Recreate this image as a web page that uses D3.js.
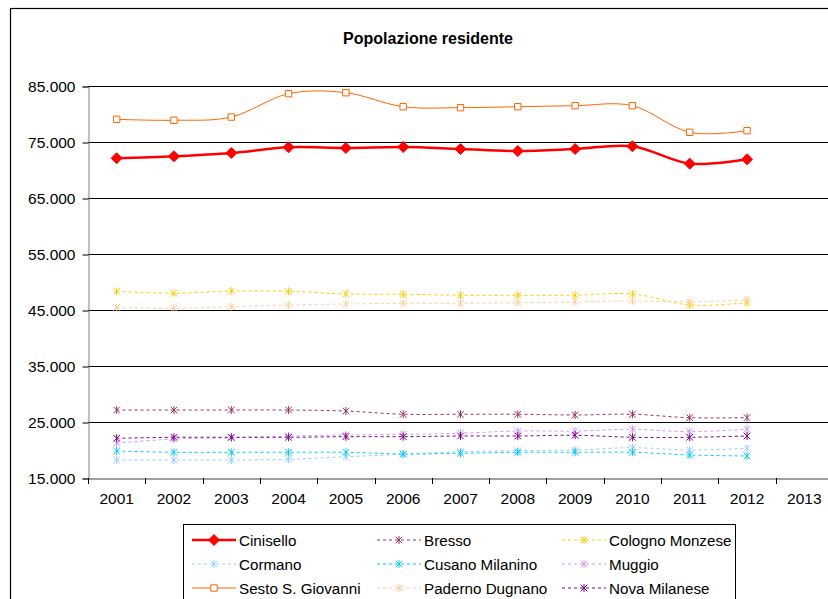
<!DOCTYPE html>
<html><head><meta charset="utf-8">
<script src="https://cdn.jsdelivr.net/npm/d3@7"></script>
<style>
html,body{margin:0;padding:0;background:#fff;}
svg{display:block;font-family:"Liberation Sans",Arial,sans-serif;}
</style></head>
<body>
<svg id="chart" width="828" height="599"></svg>
<script>
const years = [2001,2002,2003,2004,2005,2006,2007,2008,2009,2010,2011,2012];
const axisYears = [2001,2002,2003,2004,2005,2006,2007,2008,2009,2010,2011,2012,2013];
const yTicks = [15000,25000,35000,45000,55000,65000,75000,85000];

const cinisello = [72090,72450,73040,74050,73930,74110,73750,73390,73750,74230,71130,71910];
const sesto     = [79050,78880,79460,83630,83800,81300,81130,81300,81480,81480,76730,77020];
const bresso    = [27140,27140,27140,27140,26960,26380,26380,26380,26250,26380,25770,25770];
const cologno   = [48340,47980,48390,48340,47860,47800,47630,47630,47630,47860,45890,46300];
const paderno   = [45480,45300,45590,45890,46070,46200,46200,46300,46430,46610,46480,46790];
const nova      = [22090,22270,22270,22270,22380,22380,22500,22500,22630,22270,22270,22500];
const muggio    = [21250,21960,22200,22500,22680,22800,23000,23390,23390,23700,23270,23700];
const cusano    = [19820,19590,19590,19590,19590,19290,19410,19590,19590,19590,19110,18930];
const cormano   = [18210,18210,18210,18340,18800,19230,19700,19880,20000,20410,20000,20300];

const seriesNames = ["Cinisello","Bresso","Cologno Monzese","Cormano","Cusano Milanino","Muggio","Sesto S. Giovanni","Paderno Dugnano","Nova Milanese"];
const seriesValues = [cinisello,bresso,cologno,cormano,cusano,muggio,sesto,paderno,nova];
const seriesColors = ["#ff0000","#993366","#ffcc00","#99ccff","#00ccff","#cc99ff","#ff6600","#ffcc99","#800080"];
const seriesMarker = ["diamond","star","star","star","star","star","square","star","star"];
const seriesDashed = [false,true,true,true,true,true,false,true,true];
const seriesWidth = [2.5,1,1,1,1,1,1,1,1];

const svg = d3.select("#chart");

// outer chart border
svg.append("rect").attr("x",10.5).attr("y",8.5).attr("width",840).attr("height",620)
  .attr("fill","none").attr("stroke","#000").attr("stroke-width",1.2);

svg.append("text").attr("x",428).attr("y",44).attr("text-anchor","middle")
  .attr("font-size",16).attr("font-weight","bold").text("Popolazione residente");

const x = d3.scaleBand().domain(axisYears).range([88,833]);
const y = d3.scaleLinear().domain([15000,85000]).range([478,86]);
const loc = d3.formatLocale({decimal:",",thousands:".",grouping:[3],currency:["€",""]});

// gridlines
svg.append("g").selectAll("line").data(yTicks.filter(d=>d>15000)).join("line")
  .attr("x1",88).attr("x2",833).attr("y1",d=>Math.round(y(d))+0.5).attr("y2",d=>Math.round(y(d))+0.5)
  .attr("stroke","#000").attr("stroke-width",1);

// y axis
const yAxis = d3.axisLeft(y).tickValues(yTicks).tickSize(6).tickPadding(7)
  .tickFormat(d => loc.format(",")(d));
const gy = svg.append("g").attr("transform","translate(88.5,0.5)").call(yAxis);
gy.select(".domain").attr("stroke","#808080");
gy.selectAll(".tick line").attr("stroke","#000");
gy.selectAll("text").attr("font-size",15.5).attr("fill","#000").attr("font-family","Liberation Sans, Arial, sans-serif");

// x axis
const xAxis = d3.axisBottom(x).tickSize(0).tickPadding(14);
const gx = svg.append("g").attr("transform","translate(0,478.5)").call(xAxis);
gx.select(".domain").attr("stroke","#404040");
gx.selectAll("text").attr("font-size",15.5).attr("fill","#000").attr("font-family","Liberation Sans, Arial, sans-serif");
// category boundary ticks
const bounds = axisYears.map(d=>x(d)).concat([x(2013)+x.bandwidth()]);
svg.append("g").selectAll("line").data(bounds).join("line")
  .attr("x1",d=>Math.round(d)+0.5).attr("x2",d=>Math.round(d)+0.5)
  .attr("y1",478).attr("y2",484).attr("stroke","#000");

const cx = d => x(d) + x.bandwidth()/2;

function markerPath(type){
  if(type==="diamond") return "M0,-5.5L5.5,0L0,5.5L-5.5,0Z";
  if(type==="square") return "M-3.2,-3.2H3.2V3.2H-3.2Z";
  return "M0,-4V4M-3.3,-3.3L3.3,3.3M-3.3,3.3L3.3,-3.3";
}

const line = d3.line().x((d,i)=>cx(years[i])).y(d=>y(d)).curve(d3.curveCatmullRom.alpha(0));

const order = [1,2,7,3,4,5,8,6,0];
order.forEach(k=>{
  const g = svg.append("g");
  g.append("path").attr("d",line(seriesValues[k])).attr("fill","none")
    .attr("stroke",seriesColors[k]).attr("stroke-width",seriesWidth[k])
    .attr("stroke-dasharray",seriesDashed[k]?"3,3":null);
  g.selectAll("path.m").data(seriesValues[k]).join("path").attr("class","m")
    .attr("transform",(d,i)=>`translate(${cx(years[i])},${y(d)})`)
    .attr("d",markerPath(seriesMarker[k]))
    .attr("fill",seriesMarker[k]==="diamond"?seriesColors[k]:(seriesMarker[k]==="square"?"#fff":"none"))
    .attr("stroke",seriesColors[k]).attr("stroke-width",1);
});

// legend
const lg = svg.append("g");
lg.append("rect").attr("x",183.5).attr("y",524.5).attr("width",552).attr("height",90)
  .attr("fill","#fff").attr("stroke","#000").attr("stroke-width",1);
const colX = [192,377,562];
const rowY = [540,564,588];
seriesNames.forEach((name,k)=>{
  const c = k%3, r = Math.floor(k/3);
  const x0 = colX[c], yy = rowY[r];
  lg.append("line").attr("x1",x0).attr("x2",x0+44).attr("y1",yy).attr("y2",yy)
    .attr("stroke",seriesColors[k]).attr("stroke-width",seriesWidth[k])
    .attr("stroke-dasharray",seriesDashed[k]?"3,3":null);
  lg.append("path").attr("transform",`translate(${x0+22},${yy})`).attr("d",markerPath(seriesMarker[k]))
    .attr("fill",seriesMarker[k]==="diamond"?seriesColors[k]:(seriesMarker[k]==="square"?"#fff":"none"))
    .attr("stroke",seriesColors[k]).attr("stroke-width",1);
  lg.append("text").attr("x",x0+47).attr("y",yy+5.5).attr("font-size",15.2).text(name);
});
</script>
</body></html>
